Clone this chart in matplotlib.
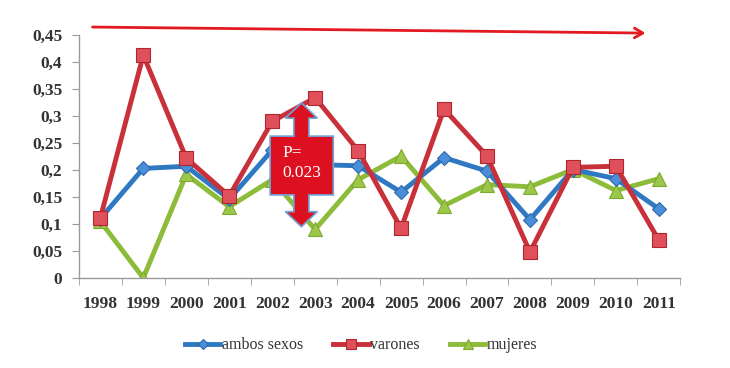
import matplotlib
matplotlib.use("Agg")
import matplotlib.pyplot as plt
from matplotlib.patches import Polygon
from matplotlib.patches import FancyArrowPatch

plt.rcParams['font.family'] = ['Liberation Serif', 'DejaVu Serif']

years = ['1998', '1999', '2000', '2001', '2002', '2003', '2004', '2005',
         '2006', '2007', '2008', '2009', '2010', '2011']
ambos = [0.110, 0.203, 0.207, 0.146, 0.237, 0.210, 0.208, 0.159,
         0.223, 0.198, 0.108, 0.201, 0.184, 0.128]
varones = [0.111, 0.413, 0.222, 0.152, 0.290, 0.334, 0.236, 0.092,
           0.313, 0.226, 0.048, 0.205, 0.207, 0.070]
mujeres = [0.105, 0.000, 0.192, 0.132, 0.182, 0.090, 0.182, 0.226,
           0.134, 0.173, 0.169, 0.201, 0.162, 0.184]
yticks = [0, 0.05, 0.1, 0.15, 0.2, 0.25, 0.3, 0.35, 0.4, 0.45]
ytick_labels = ['0', '0,05', '0,1', '0,15', '0,2', '0,25', '0,3', '0,35', '0,4', '0,45']
p_label = 'P=\n0.023'

fig = plt.figure(figsize=(7.3, 3.68), dpi=100)
ax = fig.add_axes([0.108, 0.2446, 0.824, 0.660])

x = list(range(len(years)))
blue = '#2F78C2'
red = '#C8303A'
green = '#8DBB3A'

ax.plot(x, ambos, color=blue, lw=3.5, marker='D', ms=7.5,
        mfc='#4A8FD6', mec='#2C6AAE', mew=0.8, label='ambos sexos', zorder=3)
ax.plot(x, varones, color=red, lw=3.5, marker='s', ms=10,
        mfc='#E0505A', mec='#B02630', mew=0.8, label='varones', zorder=4)
ax.plot(x, mujeres, color=green, lw=3.5, marker='^', ms=10,
        mfc='#9CC84A', mec='#7FA832', mew=0.8, label='mujeres', zorder=2)

ax.set_xlim(-0.5, len(years) - 0.5)
ax.set_ylim(0, 0.45)
ax.set_yticks(yticks)
ax.set_yticklabels(ytick_labels)
ax.set_xticks(x)
ax.set_xticklabels(years)
ax.set_xticks([i - 0.5 for i in range(len(years) + 1)], minor=True)
ax.tick_params(axis='x', which='major', length=0, pad=13)
ax.tick_params(axis='x', which='minor', length=5, color='#9a9a9a', direction='out')
ax.tick_params(axis='y', length=5, color='#9a9a9a', direction='out', pad=7)
for lab in ax.get_xticklabels() + ax.get_yticklabels():
    lab.set_fontsize(12.5)
    lab.set_fontweight('bold')
    lab.set_color('#333333')

for s in ['top', 'right']:
    ax.spines[s].set_visible(False)
for s in ['left', 'bottom']:
    ax.spines[s].set_color('#9a9a9a')
    ax.spines[s].set_linewidth(1.0)

# double arrow callout (axes fraction)
cx = 0.370
sw = 0.0125
hw = 0.0266
bl, br = 0.318, 0.423
pts = [
    (cx, 0.721), (cx + hw, 0.658), (cx + sw, 0.658), (cx + sw, 0.584),
    (br, 0.584), (br, 0.342), (cx + sw, 0.342), (cx + sw, 0.273),
    (cx + hw, 0.273), (cx, 0.211), (cx - hw, 0.273), (cx - sw, 0.273),
    (cx - sw, 0.342), (bl, 0.342), (bl, 0.584), (cx - sw, 0.584),
    (cx - sw, 0.658), (cx - hw, 0.658),
]
poly = Polygon(pts, closed=True, transform=ax.transAxes, facecolor='#DC1020',
               edgecolor='#6FA3D8', lw=1.2, zorder=6)
ax.add_patch(poly)
ax.text(0.338, 0.548, p_label, transform=ax.transAxes, color='white',
        fontsize=12.5, va='top', ha='left', linespacing=1.35, zorder=7)

# top trend arrow
arr = FancyArrowPatch((0.123, 0.9266), (0.888, 0.910), transform=fig.transFigure,
                      arrowstyle='->,head_length=6,head_width=3.5',
                      color='#E41A22', lw=2, mutation_scale=1)
fig.patches.append(arr)

leg = fig.legend(loc='center', bbox_to_anchor=(0.495, 0.062), ncol=3, frameon=False,
                 fontsize=11.5, handlelength=2.2, columnspacing=1.9, handletextpad=0.1,
                 markerscale=0.7)
for t in leg.get_texts():
    t.set_color('#333333')

fig.savefig('out.png', dpi=100)
